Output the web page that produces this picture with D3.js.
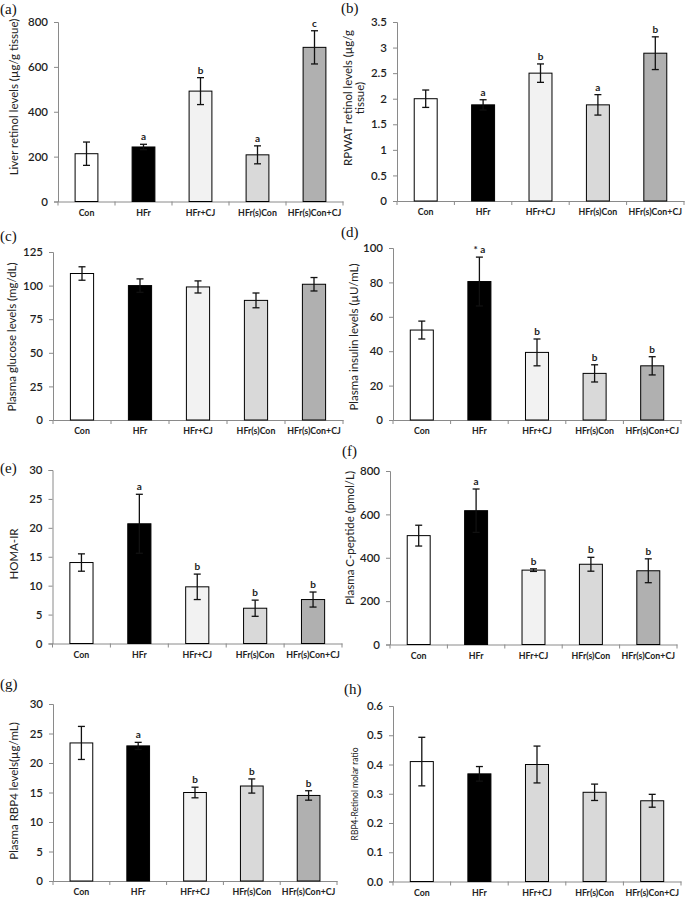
<!DOCTYPE html>
<html><head><meta charset="utf-8">
<script src="https://cdn.jsdelivr.net/npm/d3@7/dist/d3.min.js"></script>
<style>
html,body{margin:0;padding:0;background:#fff;}
svg{display:block;}
</style></head>
<body>
<svg id="chart" width="688" height="907"></svg>
<script>
// ---------- DATA ----------
const categories = ["Con", "HFr", "HFr+CJ", "HFr(s)Con", "HFr(s)Con+CJ"];
const barColors = ["#ffffff", "#000000", "#f2f2f2", "#d9d9d9", "#b0b0b0"];
const barColorsH = ["#ffffff", "#000000", "#d9d9d9", "#d9d9d9", "#d9d9d9"];

// (a) Liver retinol
const liverMean = [213, 243, 492, 208, 687];
const liverErr  = [52, 12, 60, 40, 74];
const liverSig  = ["", "a", "b", "a", "c"];
const liverTicks = [0, 200, 400, 600, 800];

// (b) RPWAT retinol
const rpwatMean = [2.0, 1.88, 2.5, 1.88, 2.89];
const rpwatErr  = [0.17, 0.10, 0.18, 0.20, 0.32];
const rpwatSig  = ["", "a", "b", "a", "b"];
const rpwatTicks = [0, 0.5, 1, 1.5, 2, 2.5, 3, 3.5];

// (c) Plasma glucose
const glucoseMean = [109, 100, 99, 89, 101];
const glucoseErr  = [5, 5, 4.5, 5.5, 5];
const glucoseSig  = ["", "", "", "", ""];
const glucoseTicks = [0, 25, 50, 75, 100, 125];

// (d) Plasma insulin
const insulinMean = [52.3, 80.5, 39.3, 27.1, 31.5];
const insulinErr  = [5.2, 14.2, 7.8, 5.0, 5.3];
const insulinSig  = ["", "* a", "b", "b", "b"];
const insulinTicks = [0, 20, 40, 60, 80, 100];

// (e) HOMA-IR
const homaMean = [14.0, 20.7, 9.8, 6.1, 7.6];
const homaErr  = [1.5, 5.1, 2.2, 1.4, 1.3];
const homaSig  = ["", "a", "b", "b", "b"];
const homaTicks = [0, 5, 10, 15, 20, 25, 30];

// (f) Plasma C-peptide
const cpepMean = [502, 617, 343, 370, 340];
const cpepErr  = [48, 100, 6, 32, 55];
const cpepSig  = ["", "a", "b", "b", "b"];
const cpepTicks = [0, 200, 400, 600, 800];

// (g) Plasma RBP4
const rbp4Mean = [23.4, 22.9, 15.0, 16.1, 14.5];
const rbp4Err  = [2.8, 0.6, 0.9, 1.2, 0.8];
const rbp4Sig  = ["", "a", "b", "b", "b"];
const rbp4Ticks = [0, 5, 10, 15, 20, 25, 30];

// (h) RBP4-Retinol molar ratio
const ratioMean = [0.41, 0.368, 0.40, 0.305, 0.276];
const ratioErr  = [0.083, 0.025, 0.063, 0.028, 0.022];
const ratioSig  = ["", "", "", "", ""];
const ratioTicks = [0, 0.1, 0.2, 0.3, 0.4, 0.5, 0.6];

// ---------- LAYOUT ----------
const panels = [
  {tag:"(a)", mean:liverMean, err:liverErr, sig:liverSig, ticks:liverTicks, colors:barColors, fmt:d3.format("d"),
   ylabel:["Liver retinol levels (\u00b5g/g tissue)"], x0:58, x1:343, y0:22, y1:201.5, tagX:0, tagY:14, labX:[15], labY:97, labSize:11.5},
  {tag:"(b)", mean:rpwatMean, err:rpwatErr, sig:rpwatSig, ticks:rpwatTicks, colors:barColors, fmt:d3.format("~g"),
   ylabel:["RPWAT retinol levels (\u00b5g/g", "tissue)"], x0:397, x1:684, y0:22, y1:201, tagX:341, tagY:13, labX:[349,361], labY:98, labSize:11.5},
  {tag:"(c)", mean:glucoseMean, err:glucoseErr, sig:glucoseSig, ticks:glucoseTicks, colors:barColors, fmt:d3.format("d"),
   ylabel:["Plasma glucose levels (mg/dL)"], x0:53, x1:343, y0:252, y1:420, tagX:0, tagY:241, labX:[13], labY:337, labSize:11.5},
  {tag:"(d)", mean:insulinMean, err:insulinErr, sig:insulinSig, ticks:insulinTicks, colors:barColors, fmt:d3.format("d"),
   ylabel:["Plasma insulin levels (\u00b5U/mL)"], x0:393, x1:681, y0:248, y1:420, tagX:341, tagY:237, labX:[355], labY:337, labSize:11.5},
  {tag:"(e)", mean:homaMean, err:homaErr, sig:homaSig, ticks:homaTicks, colors:barColors, fmt:d3.format("d"),
   ylabel:["HOMA-IR"], x0:52.5, x1:342, y0:470, y1:643.5, tagX:0, tagY:473, labX:[15], labY:554, labSize:11.5},
  {tag:"(f)", mean:cpepMean, err:cpepErr, sig:cpepSig, ticks:cpepTicks, colors:barColors, fmt:d3.format("d"),
   ylabel:["Plasma C-peptide (pmol/L)"], x0:390, x1:677, y0:471, y1:644.5, tagX:342, tagY:456, labX:[351], labY:538, labSize:11.5},
  {tag:"(g)", mean:rbp4Mean, err:rbp4Err, sig:rbp4Sig, ticks:rbp4Ticks, colors:barColors, fmt:d3.format("d"),
   ylabel:["Plasma RBP4 levels(\u00b5g/mL)"], x0:53, x1:337, y0:704, y1:881, tagX:0, tagY:689, labX:[15], labY:791, labSize:11.5},
  {tag:"(h)", mean:ratioMean, err:ratioErr, sig:ratioSig, ticks:ratioTicks, colors:barColorsH, fmt:d3.format(".1f"),
   ylabel:["RBP4-Retinol molar ratio"], x0:393, x1:681, y0:706, y1:881.5, tagX:344, tagY:694, labX:[356], labY:794, labSize:8.5}
];

const svg = d3.select("#chart");
const axisColor = "#8a8a8a";
const sansFont = "Lato, 'Open Sans', 'Liberation Sans', sans-serif";

panels.forEach(p => {
  const g = svg.append("g");
  const x = d3.scaleBand().domain(categories).range([p.x0, p.x1]).paddingInner(0.6).paddingOuter(0.3);
  const y = d3.scaleLinear().domain([0, d3.max(p.ticks)]).range([p.y1, p.y0]);

  // panel tag
  g.append("text").attr("x", p.tagX).attr("y", p.tagY)
    .attr("font-family", "'Liberation Serif', 'DejaVu Serif', serif").attr("font-size", 15)
    .attr("fill", "#111").text(p.tag);

  // y axis
  const ya = g.append("g").attr("transform", `translate(${p.x0},0)`)
    .call(d3.axisLeft(y).tickValues(p.ticks).tickFormat(p.fmt).tickSize(4).tickPadding(6));
  ya.select(".domain").attr("stroke", axisColor).attr("stroke-width", 1);
  ya.selectAll(".tick line").attr("stroke", axisColor);
  ya.selectAll(".tick text").attr("font-family", sansFont).attr("font-size", 11.5)
    .attr("fill", "#1e1e1e").attr("font-weight", 600);

  // x axis
  const xa = g.append("g").attr("transform", `translate(0,${p.y1})`)
    .call(d3.axisBottom(x).tickSize(0).tickPadding(8));
  xa.select(".domain").attr("stroke", axisColor).attr("stroke-width", 1);
  xa.selectAll(".tick text").attr("font-family", sansFont).attr("font-size", 8.8)
    .attr("font-weight", 700).attr("fill", "#222");
  // separator ticks between categories
  const bounds = d3.range(categories.length + 1).map(i => p.x0 + i * (p.x1 - p.x0) / categories.length);
  g.selectAll(".sep").data(bounds).enter().append("line")
    .attr("x1", d => d).attr("x2", d => d).attr("y1", p.y1).attr("y2", p.y1 + 4)
    .attr("stroke", axisColor).attr("stroke-width", 1);

  // bars
  g.selectAll(".bar").data(categories).enter().append("rect")
    .attr("x", d => x(d)).attr("width", x.bandwidth())
    .attr("y", (d, i) => y(p.mean[i])).attr("height", (d, i) => y(0) - y(p.mean[i]))
    .attr("fill", (d, i) => p.colors[i]).attr("stroke", "#000").attr("stroke-width", 1);

  // error bars
  const cap = 3.5;
  const eb = g.selectAll(".eb").data(categories).enter().append("g");
  eb.append("line")
    .attr("x1", d => x(d) + x.bandwidth() / 2).attr("x2", d => x(d) + x.bandwidth() / 2)
    .attr("y1", (d, i) => y(p.mean[i] + p.err[i])).attr("y2", (d, i) => y(p.mean[i] - p.err[i]))
    .attr("stroke", "#111").attr("stroke-width", 1.3);
  [1, -1].forEach(s => {
    eb.append("line")
      .attr("x1", d => x(d) + x.bandwidth() / 2 - cap).attr("x2", d => x(d) + x.bandwidth() / 2 + cap)
      .attr("y1", (d, i) => y(p.mean[i] + s * p.err[i])).attr("y2", (d, i) => y(p.mean[i] + s * p.err[i]))
      .attr("stroke", "#111").attr("stroke-width", 1.3);
  });

  // significance letters
  g.selectAll(".sig").data(categories).enter().append("text")
    .attr("x", d => x(d) + x.bandwidth() / 2)
    .attr("y", (d, i) => y(p.mean[i] + p.err[i]) - 4)
    .attr("text-anchor", "middle").attr("font-family", sansFont).attr("font-size", 10)
    .attr("font-weight", 700).attr("fill", "#222")
    .text((d, i) => p.sig[i]);

  // y label(s)
  p.ylabel.forEach((t, k) => {
    g.append("text")
      .attr("transform", `translate(${p.labX[k]},${p.labY}) rotate(-90)`)
      .attr("text-anchor", "middle").attr("dominant-baseline", "middle")
      .attr("font-family", sansFont).attr("font-size", p.labSize)
      .attr("fill", "#222").text(t);
  });
});
</script>
</body></html>
